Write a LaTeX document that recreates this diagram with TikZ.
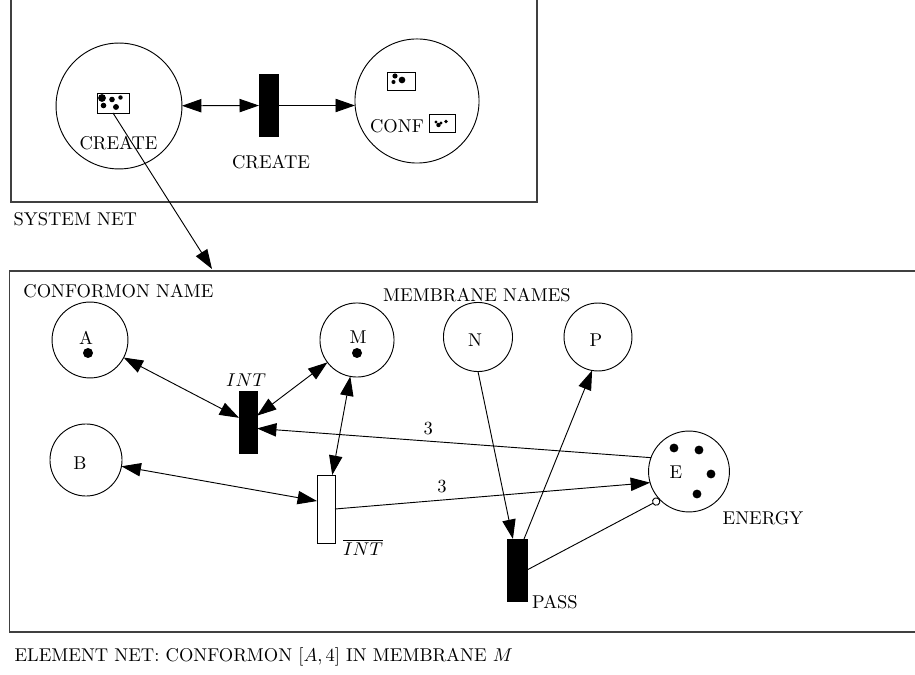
\documentclass[tikz,border=0pt]{standalone}
\usetikzlibrary{arrows.meta,calc}
\begin{document}
\begin{tikzpicture}[x=0.54pt,y=-0.54pt, line width=0.5pt,
  >={Triangle[length=10.5pt,width=7.2pt]},
  place/.style={circle,draw,inner sep=0pt,outer sep=0pt},
  trans/.style={rectangle,draw,fill=black,inner sep=0pt,outer sep=0pt},
  otrans/.style={rectangle,draw,fill=white,inner sep=0pt,outer sep=0pt},
  tokbox/.style={rectangle,draw,inner sep=0pt,outer sep=0pt},
  frame/.style={draw=black!75,line width=0.7pt}]
\useasboundingbox (0,0) rectangle (915,675);

% frames
\draw[frame] (11,-5) rectangle (537,202);
\draw[frame] (9.5,271) rectangle (930,632);

% ---------------- system net ----------------
\node[place,minimum size=68pt] (cp) at (119,106) {};
\node[tokbox,minimum width=17.3pt,minimum height=10.8pt] (cbox) at (113,103) {};
\fill (102,98) circle (2.1pt);
\fill (112,99.5) circle (1.5pt);
\fill (120.5,97.5) circle (1.2pt);
\fill (103.5,105.5) circle (1.5pt);
\fill (116,107) circle (1.6pt);
\node (cpl) at (118.5,143) {CREATE};

\node[trans,minimum width=10.3pt,minimum height=33pt] (ct) at (268.5,105.5) {};
\node (ctl) at (271,162) {CREATE};

\node[place,minimum size=67pt] (conf) at (417,101) {};
\node[tokbox,minimum width=15.1pt,minimum height=9.7pt] (cb1) at (401.5,81) {};
\fill (395,76) circle (1.4pt);
\fill (393.5,82) circle (1.1pt);
\fill (402,80) circle (1.8pt);
\node[tokbox,minimum width=14pt,minimum height=9.7pt] (cb2) at (442,123) {};
\fill (436,122) circle (0.9pt);
\fill (438.5,125) circle (1.2pt);
\fill (441,123) circle (0.9pt);
\fill (446,121.5) circle (1.0pt);
\node (confl) at (397,126) {CONF};

\node[anchor=west] (sysl) at (7,219) {SYSTEM NET};

\draw[<->] (cp) -- (ct);
\draw[->] (ct) -- (ct -| conf.west);
\coordinate (eltop) at (212,269);
\draw[->] (cbox.south) -- (eltop);

% ---------------- element net ----------------
\node (cnl) at (118.5,291) {CONFORMON NAME};
\node (mnl) at (477,295) {MEMBRANE NAMES};

\node[place,minimum size=41pt] (A) at (90,340) {};
\node (Al) at (86,338) {A};
\fill (88,353) circle (2.7pt);

\node[place,minimum size=40pt] (M) at (357,340) {};
\node (Ml) at (358,337) {M};
\fill (357,353) circle (2.7pt);

\node[place,minimum size=38.9pt] (B) at (86,460) {};
\node (Bl) at (80,463) {B};

\node[place,minimum size=37.3pt] (N) at (478,337) {};
\node (Nl) at (475,340) {N};

\node[place,minimum size=36.7pt] (P) at (598,337) {};
\node (Pl) at (596,340) {P};

\node[place,minimum size=43.7pt] (E) at (689,471.5) {};
\node (El) at (676,472) {E};
\fill (674,448) circle (2.4pt);
\fill (699,450) circle (2.4pt);
\fill (711,474) circle (2.4pt);
\fill (697,494) circle (2.4pt);
\node (enl) at (763,518) {ENERGY};

\node[trans,minimum width=9.7pt,minimum height=33pt] (INT) at (248,422.5) {};
\node (intl) at (246,380) {$INT$};

\node[otrans,minimum width=9.7pt,minimum height=36.7pt] (INTb) at (326,509) {};
\node (intbl) at (363,547) {$\overline{INT}$};

\node[trans,minimum width=10.8pt,minimum height=33.5pt] (PASS) at (517,570) {};
\node (passl) at (555,602) {PASS};

\draw[<->] (A) -- (INT);
\draw[<->] (M) -- (INT);
\draw[<->] (M) -- (INTb);
\draw[<->] (B) -- ([yshift=4.3pt]INTb.west);
\draw[->] (E.160) -- node[above,pos=0.565] {3} ([yshift=-3.2pt]INT.east);
\draw[->] (INTb.east) -- node[above,pos=0.34] {3} (E.196);
\draw[->] (N.south) -- ([xshift=-2.2pt]PASS.north);
\draw[->] ([xshift=3.8pt]PASS.north) -- (P.260);
\draw[-{Circle[open,length=4.5pt]}] (PASS.east) -- (E.224);

\node[anchor=west] (eln) at (8,657) {ELEMENT NET: CONFORMON $[A,4]$ IN MEMBRANE $M$};
\end{tikzpicture}
\end{document}
